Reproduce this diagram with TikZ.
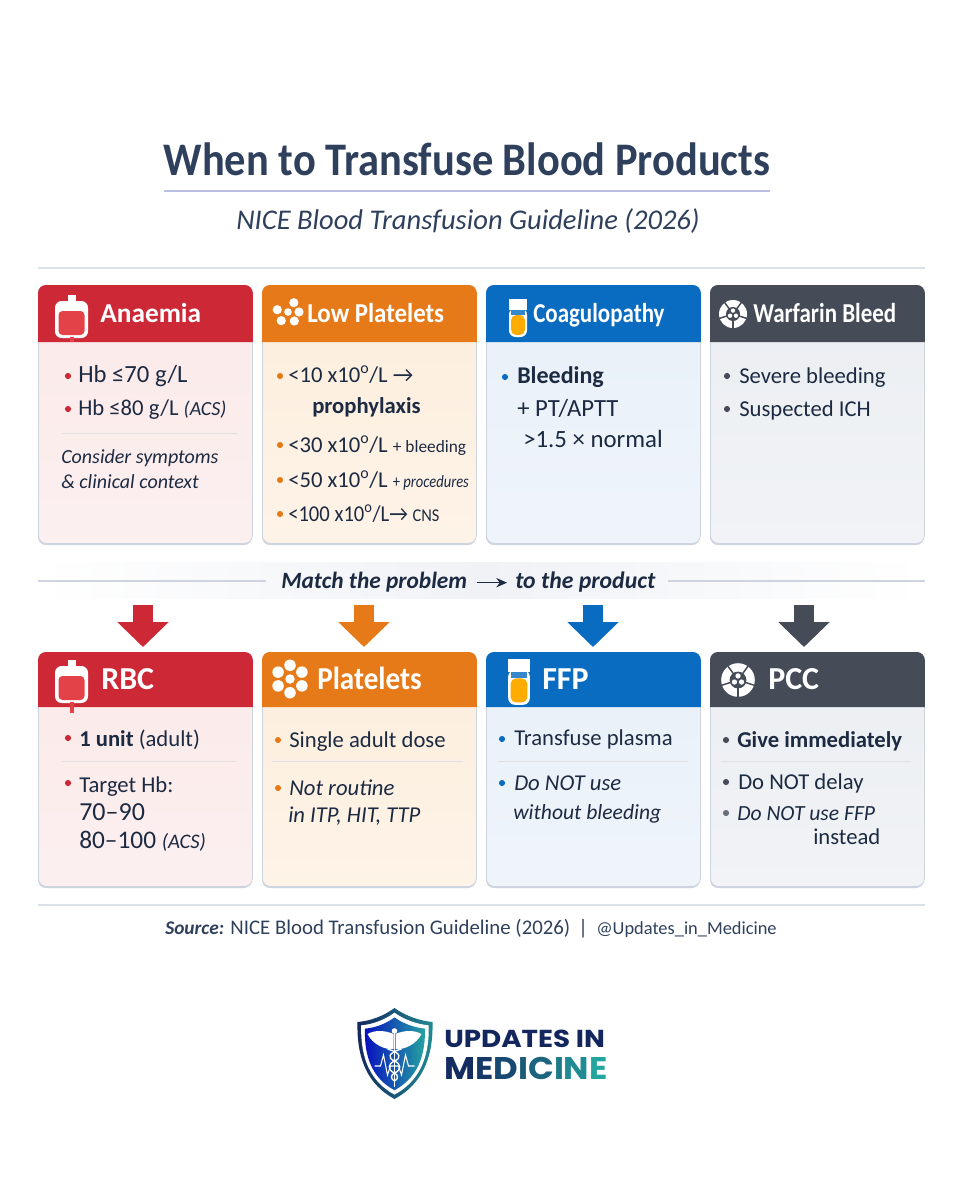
\documentclass[tikz,border=0pt]{standalone}
\usepackage{fontspec}
\setmainfont{Carlito}
\newfontfamily\logofont{Poppins}
\newfontfamily\logowide{Poppins}[FakeStretch=1.13]
\newfontfamily\logomed{Poppins}[FakeStretch=1.08]
\newfontfamily\narrowa{Carlito}[FakeStretch=0.91]
\newfontfamily\narrowb{Carlito}[FakeStretch=0.84]
\usetikzlibrary{arrows.meta, positioning, calc}
\definecolor{inkblue}{RGB}{28, 42, 66}
\definecolor{titleblue}{RGB}{47, 64, 92}
\definecolor{rulegray}{RGB}{205, 212, 224}
\definecolor{hdrred}{RGB}{204, 40, 54}
\definecolor{hdrorange}{RGB}{230, 122, 24}
\definecolor{hdrblue}{RGB}{10, 108, 192}
\definecolor{hdrdark}{RGB}{69, 76, 88}
\definecolor{tintred}{RGB}{251, 233, 233}
\definecolor{tintorange}{RGB}{253, 238, 221}
\definecolor{tintblue}{RGB}{232, 240, 248}
\definecolor{tintdark}{RGB}{235, 238, 242}
\definecolor{bandgray}{RGB}{240, 242, 246}
\definecolor{bagred}{RGB}{226, 66, 72}
\definecolor{logonavy}{RGB}{20, 38, 94}
\definecolor{logoteal}{RGB}{36, 165, 160}
\newcommand{\bodysize}{\fontsize{17}{20}\selectfont}
\newcommand{\smallsize}{\fontsize{13.5}{16}\selectfont}
\newcommand{\shieldpath}{(0,-47) .. controls (11,-39) and (26,-34) .. (38,-33) .. controls (39,5) and (26,30) .. (0,44) .. controls (-26,30) and (-38,5) .. (-37,-33) .. controls (-24,-34) and (-11,-39) .. (0,-47) -- cycle}
\tikzset{
  pics/bloodbag/.style={code={
    \fill[white] (-4,-24) rectangle (4,-14);
    \fill[white, rounded corners=5pt] (-16.5,-18) rectangle (16.5,19);
    \fill[bagred, rounded corners=3pt] (-13,-8) rectangle (13,16);
    \fill[bagred] (-2,18) rectangle (2,23);
  }},
  pics/platelets/.style={code={
    \fill[white] (0,0) circle (3.8);
    \foreach \ang in {#1} {\fill[white] (\ang:11) circle (4.6);}
  }},
  pics/testtube/.style={code={
    \fill[white, rounded corners=5pt] (-9,-10) -- (-9,19) -- (9,19) -- (9,-10) -- cycle;
    \fill[white] (-9,-19) rectangle (9,-8);
    \fill[#1!82!white] (-7,-8) rectangle (7,-3);
    \fill[orange!65!yellow, rounded corners=4pt] (-7,-3) -- (-7,17) -- (7,17) -- (7,-3) -- cycle;
  }},
  pics/clotball/.style={code={
    \fill[white] (0,0) circle (14);
    \foreach \ang in {-54,18,90,162,234} {\draw[hdrdark, line width=1.1pt] (\ang:6) -- (\ang:15);}
    \fill[hdrdark] (0,0) circle (7);
    \foreach \ang in {-90,30,150} {\fill[white] (\ang:3.4) circle (2.2);}
  }},
}
\begin{document}
\begin{tikzpicture}[x=0.75pt, y=-0.75pt,
  cardbox/.style={rounded corners=6pt, minimum width=160.5pt, inner sep=0pt, anchor=north west, draw=rulegray, line width=0.6pt},
  tx/.style={anchor=base west, inner sep=0pt, text=inkblue, font=\bodysize},
  hdr/.style={anchor=base west, inner sep=0pt, text=white, font=\fontsize{20.5}{24}\selectfont\bfseries},
  bul/.style={circle, inner sep=0pt, minimum size=4.6pt},
  hair/.style={draw=black!12, line width=0.5pt},
  bigarrow/.style={line width=15pt, shorten >=3.75pt, -{Triangle[length=18.75pt, width=37.5pt]}},
]
\useasboundingbox (0,0) rectangle (963,1200);
\fill[white] (0,0) rectangle (963,1200);

% Title block
\node[anchor=base, inner sep=0pt, text=titleblue, font=\narrowa\fontsize{35}{40}\selectfont\bfseries] (title) at (467,175) {When to Transfuse Blood Products};
\draw[rulegray!90!blue, line width=1pt] (164,191) -- (770,191);
\node[anchor=base, inner sep=0pt, text=titleblue, font=\fontsize{21.4}{26}\selectfont\itshape] (subtitle) at (468,229) {NICE Blood Transfusion Guideline (2026)};
\draw[rulegray!70, line width=0.8pt] (38,268) -- (925,268);

% Problem cards
\foreach \nm/\xa/\colr/\tint in {anaemia/38/hdrred/tintred, lowplt/262/hdrorange/tintorange, coag/486/hdrblue/tintblue, warf/710/hdrdark/tintdark} {
  \fill[rulegray, rounded corners=6pt] (\xa,288) rectangle (\xa+214,545);
  \node[cardbox, minimum height=193.5pt, top color=\tint, bottom color=\tint!70!white] (\nm) at (\xa,285) {};
  \fill[\colr] (\nm.west |- 0,342) [rounded corners=6pt] -- (\nm.north west) -- (\nm.north east) [sharp corners] -- (\nm.east |- 0,342) -- cycle;
}
% Product cards
\foreach \nm/\xa/\colr/\tint in {rbc/38/hdrred/tintred, plts/262/hdrorange/tintorange, ffp/486/hdrblue/tintblue, pcc/710/hdrdark/tintdark} {
  \fill[rulegray, rounded corners=6pt] (\xa,655) rectangle (\xa+214,888);
  \node[cardbox, minimum height=175.5pt, top color=\tint, bottom color=\tint!70!white] (\nm) at (\xa,652) {};
  \fill[\colr] (\nm.west |- 0,707) [rounded corners=6pt] -- (\nm.north west) -- (\nm.north east) [sharp corners] -- (\nm.east |- 0,707) -- cycle;
}

% Anaemia
\pic at (71.5,319) {bloodbag=hdrred};
\node[hdr] (anaemiahd) at (100,322) {Anaemia};
\node[bul, fill=hdrred] (a1) at (68,376) {};
\node[tx, font=\fontsize{18.5}{20}\selectfont] (a1t) at (78,382) {Hb ≤70 g/L};
\node[bul, fill=hdrred] (a2) at (68,409) {};
\node[tx] (a2t) at (78,415) {Hb ≤80 g/L {\fontsize{15}{16}\selectfont\itshape(ACS)}};
\draw[hair] (62,433) -- (237,433);
\node[tx, font=\fontsize{15}{18}\selectfont\itshape] (a3t) at (61,463) {Consider symptoms};
\node[tx, font=\fontsize{15}{18}\selectfont\itshape] (a4t) at (61,488) {\& clinical context};

% Low platelets
\pic at (288,312) {platelets={-58,192,0,128,55}};
\node[hdr, font=\narrowa\fontsize{20.5}{24}\selectfont\bfseries] (lowplthd) at (307,322) {Low Platelets};
\node[bul, fill=hdrorange] (b1) at (280,376) {};
\node[tx] (b1t) at (288,382) {<10 x10\textsuperscript{o}/L →};
\node[tx, font=\bodysize\bfseries] (b2t) at (312,413) {prophylaxis};
\node[bul, fill=hdrorange] (b3) at (280,445) {};
\node[tx] (b3t) at (288,452) {<30 x10\textsuperscript{o}/L {\fontsize{13}{16}\selectfont + bleeding}};
\node[bul, fill=hdrorange] (b4) at (280,480) {};
\node[tx] (b4t) at (288,487) {<50 x10\textsuperscript{o}/L {\narrowb\fontsize{13}{16}\selectfont + \itshape procedures}};
\node[bul, fill=hdrorange] (b5) at (280,514) {};
\node[tx, font=\narrowa\bodysize] (b5t) at (288,521) {<100 x10\textsuperscript{o}/L→ {\smallsize CNS}};

% Coagulopathy
\pic at (518,318) {testtube=hdrblue};
\node[hdr, font=\narrowb\fontsize{20.5}{24}\selectfont\bfseries] (coaghd) at (533,322) {Coagulopathy};
\node[bul, fill=hdrblue] (c1) at (505,377) {};
\node[tx, font=\fontsize{18}{20}\selectfont\bfseries] (c1t) at (517,383) {Bleeding};
\node[tx, font=\fontsize{18.5}{20}\selectfont] (c2t) at (517,416) {+ PT/APTT};
\node[tx, font=\fontsize{18.6}{20}\selectfont] (c3t) at (523,447) {>1.5 × normal};

% Warfarin bleed
\pic at (733,314) {clotball};
\node[hdr, font=\narrowb\fontsize{20.5}{24}\selectfont\bfseries] (warfhd) at (753,322) {Warfarin Bleed};
\node[bul, fill=hdrdark] (d1) at (727,376) {};
\node[tx] (d1t) at (739,383) {Severe bleeding};
\node[bul, fill=hdrdark] (d2) at (727,409) {};
\node[tx] (d2t) at (739,416) {Suspected ICH};

% Divider
\shade[left color=white, right color=white, middle color=bandgray] (38,562) rectangle (925,598);
\node[tx, font=\fontsize{17.5}{20}\selectfont\bfseries\itshape] (matchl) at (281,588) {Match the problem};
\node[tx, font=\fontsize{17.8}{20}\selectfont\bfseries\itshape] (matchr) at (515,588) {to the product};
\draw[rulegray, line width=1.2pt] (38,581) -- (266,581);
\draw[rulegray, line width=1.2pt] (668,581) -- (925,581);
\draw[-{Stealth[length=8pt,width=7pt]}, inkblue, line width=1.2pt] ([xshift=7pt,yshift=4pt]matchl.base east) -- ([xshift=-6pt,yshift=4pt]matchr.base west);

% Arrows from the divider to the products
\coordinate (arrowa) at (143,605);
\coordinate (arrowb) at (364,605);
\coordinate (arrowc) at (593,605);
\coordinate (arrowd) at (804,605);
\draw[bigarrow, hdrred] (arrowa) -- (arrowa |- rbc.north);
\draw[bigarrow, hdrorange] (arrowb) -- (arrowb |- plts.north);
\draw[bigarrow, hdrblue] (arrowc) -- (arrowc |- ffp.north);
\draw[bigarrow, hdrdark] (arrowd) -- (arrowd |- pcc.north);

% RBC
\fill[bagred] (69.5,703) rectangle (73.5,713);
\pic at (71.5,684) {bloodbag=hdrred};
\node[hdr, font=\fontsize{24}{28}\selectfont\bfseries] (rbchd) at (101,689) {RBC};
\node[bul, fill=hdrred] (e1) at (68,738) {};
\node[tx] (e1t) at (79,746) {{\bfseries 1 unit} (adult)};
\draw[hair] (62,761) -- (236,761);
\node[bul, fill=hdrred] (e2) at (68,783) {};
\node[tx] (e2t) at (79,792) {Target Hb:};
\node[tx, font=\fontsize{19.5}{20}\selectfont] (e3t) at (79,820) {70–90};
\node[tx, font=\fontsize{19}{20}\selectfont] (e4t) at (79,848) {80–100 {\fontsize{15.5}{16}\selectfont\itshape(ACS)}};

% Platelets
\pic[scale=1.25] at (290,679) {platelets={-90,-30,30,90,150,210}};
\node[hdr, font=\narrowa\fontsize{24}{28}\selectfont\bfseries] (pltshd) at (317,689) {Platelets};
\node[bul, fill=hdrorange] (f1) at (278,740) {};
\node[tx] (f1t) at (289,747) {Single adult dose};
\draw[hair] (272,761) -- (463,761);
\node[bul, fill=hdrorange] (f2) at (278,788) {};
\node[tx, font=\bodysize\itshape] (f2t) at (289,795) {Not routine};
\node[tx, font=\bodysize\itshape] (f3t) at (288,822) {in ITP, HIT, TTP};

% FFP
\pic[scale=1.2] at (519,682) {testtube=hdrblue};
\node[hdr, font=\fontsize{24}{28}\selectfont\bfseries] (ffphd) at (542,689) {FFP};
\node[bul, fill=hdrblue] (g1) at (502,739) {};
\node[tx] (g1t) at (514,745) {Transfuse plasma};
\draw[hair] (498,761) -- (688,761);
\node[bul, fill=hdrblue] (g2) at (502,783) {};
\node[tx, font=\bodysize\itshape] (g2t) at (514,790) {Do NOT use};
\node[tx, font=\fontsize{16.2}{20}\selectfont\itshape] (g3t) at (513,819) {without bleeding};

% PCC
\pic[scale=1.2] at (738,680) {clotball};
\node[hdr, font=\fontsize{24}{28}\selectfont\bfseries] (pcchd) at (768,689) {PCC};
\node[bul, fill=hdrdark] (h1) at (726,740) {};
\node[tx, font=\bodysize\bfseries] (h1t) at (737,747) {Give immediately};
\draw[hair] (721,761) -- (911,761);
\node[bul, fill=hdrdark] (h2) at (726,782) {};
\node[tx] (h2t) at (738,789) {Do NOT delay};
\node[bul, fill=hdrdark!80] (h3) at (726,813) {};
\node[tx, font=\fontsize{16.2}{20}\selectfont\itshape] (h3t) at (737,820) {Do NOT use FFP};
\node[tx] (h4t) at (813,844) {instead};

% Source line
\draw[rulegray!70, line width=0.8pt] (38,905) -- (925,905);
\node[anchor=base west, inner sep=0pt, text=titleblue, font=\fontsize{15.6}{18}\selectfont] (source) at (165,934) {{\fontsize{14.5}{18}\selectfont\bfseries\itshape Source:} NICE Blood Transfusion Guideline (2026) \,|\, {\fontsize{13.8}{16}\selectfont @Updates\_in\_Medicine}};

% Logo
\begin{scope}[shift={(394.5,1055)}]
  \shade[left color=logonavy, right color=logoteal!80!logonavy] \shieldpath;
  \begin{scope}[scale=0.9]
    \fill[white] \shieldpath;
  \end{scope}
  \begin{scope}[scale=0.8]
    \shade[left color=blue!60!logonavy, right color=logoteal] \shieldpath;
  \end{scope}
  \draw[white, line width=1.3pt] (0,-24) -- (0,32);
  \fill[white] (0,-24) circle (2.8);
  \fill[white] (-1,-21) .. controls (-10,-25) and (-20,-25) .. (-27,-21) .. controls (-22,-11) and (-10,-5) .. (-1,-6) -- cycle;
  \fill[white] (1,-21) .. controls (10,-25) and (20,-25) .. (27,-21) .. controls (22,-11) and (10,-5) .. (1,-6) -- cycle;
  \draw[white, line width=1pt] (-7,-6) .. controls (7,-2) and (7,3) .. (0,6) .. controls (-7,9) and (-7,15) .. (0,18) .. controls (4,20) and (4,24) .. (0,26);
  \draw[white, line width=1pt] (7,-6) .. controls (-7,-2) and (-7,3) .. (0,6) .. controls (7,9) and (7,15) .. (0,18) .. controls (-4,20) and (-4,24) .. (0,26);
  \draw[white, line width=0.8pt] (-20,11) -- (-14,11) -- (-11,0) -- (-7,20) -- (-4,11) -- (4,11) -- (7,20) -- (11,0) -- (14,11) -- (20,11);
\end{scope}
\node[anchor=base west, inner sep=0pt, text=logonavy, font=\logowide\fontsize{18.4}{20}\selectfont\bfseries] (logoa) at (444,1047) {UPDATES IN};
\node[anchor=base west, inner sep=0pt, font=\logomed\fontsize{23.5}{26}\selectfont\bfseries] (logob) at (444,1079) {\textcolor{logonavy!95!logoteal}{M}\textcolor{logonavy!85!logoteal}{E}\textcolor{logonavy!72!logoteal}{D}\textcolor{logonavy!60!logoteal}{I}\textcolor{logonavy!50!logoteal}{C}\textcolor{logonavy!35!logoteal}{I}\textcolor{logonavy!20!logoteal}{N}\textcolor{logoteal}{E}};
\end{tikzpicture}
\end{document}
